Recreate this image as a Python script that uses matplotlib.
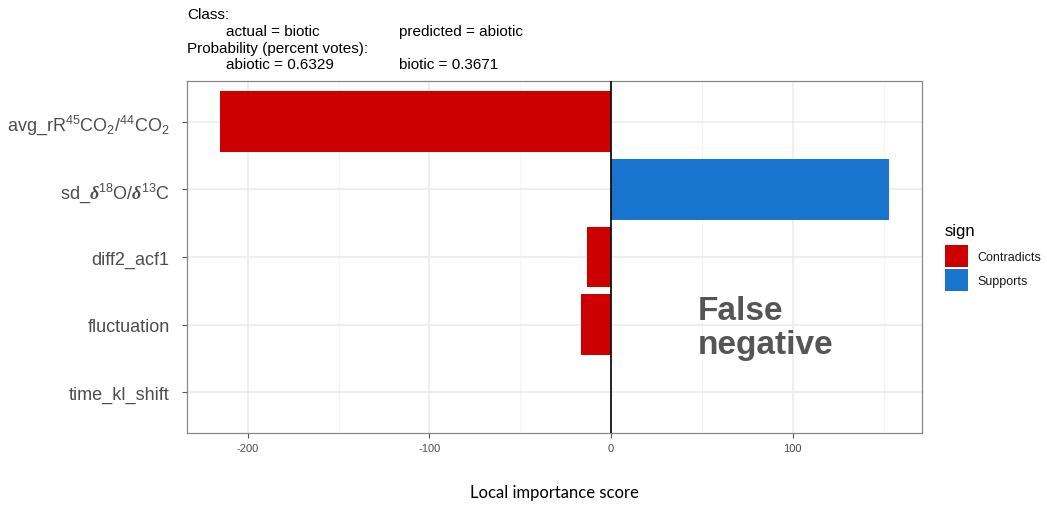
import numpy as np
import matplotlib.pyplot as plt
from matplotlib.patches import Patch

# local explanation for one misclassified sample
features = [
    r"avg_rR$^{45}$CO$_2$/$^{44}$CO$_2$",
    r"sd_$\boldsymbol{\delta}^{18}$O/$\boldsymbol{\delta}^{13}$C",
    "diff2_acf1",
    "fluctuation",
    "time_kl_shift",
]
scores = [-215.0, 152.7, -13.0, -16.5, 0.0]
sign_names = ["Contradicts", "Supports"]
sign_colors = {"Contradicts": "#CC0000", "Supports": "#1874CD"}

header_rows = [
    ("Class:", None, None),
    (None, "actual = biotic", "predicted = abiotic"),
    ("Probability (percent votes):", None, None),
    (None, "abiotic = 0.6329", "biotic = 0.3671"),
]

plt.rcParams.update({
    "font.family": "Liberation Sans",
    "mathtext.fontset": "custom",
    "mathtext.rm": "Liberation Sans",
    "mathtext.it": "Liberation Sans:italic",
    "mathtext.bf": "Liberation Sans:bold",
    "mathtext.bfit": "Liberation Serif:italic:bold",
})

fig = plt.figure(figsize=(10.47, 5.06), dpi=100)
ax = fig.add_axes([187 / 1047, 1 - 434 / 506, (922 - 187) / 1047, (434 - 82) / 506])

signs = ["Contradicts" if s < 0 else "Supports" for s in scores]
ypos = np.arange(len(features))
ax.barh(ypos, scores, height=0.9, color=[sign_colors[s] for s in signs], zorder=2)
ax.axvline(0, color="black", lw=1.2, zorder=3)

# ggplot style 5% padding around the data
lo, hi = min(min(scores), 0), max(max(scores), 0)
pad = 0.05 * (hi - lo)
ax.set_xlim(lo - pad, hi + pad)
ax.set_ylim(len(features) - 0.4, -0.6)

ax.set_yticks(ypos)
ax.set_yticklabels(features, fontsize=13, color="#4D4D4D")
ax.set_xticks([-200, -100, 0, 100])
ax.set_xticklabels(["-200", "-100", "0", "100"], fontsize=8, color="#4D4D4D")
ax.set_xticks([-150, -50, 50, 150], minor=True)
ax.tick_params(axis="both", which="major", length=3.5, color="#555555", width=0.8)
ax.tick_params(axis="x", which="minor", length=0)
ax.tick_params(axis="y", pad=9)
ax.tick_params(axis="x", pad=4)

ax.grid(True, which="major", color="#EBEBEB", lw=1.1, zorder=0)
ax.grid(True, which="minor", axis="x", color="#F2F2F2", lw=0.6, zorder=0)
ax.set_axisbelow(True)
for sp in ax.spines.values():
    sp.set_color("#888888")
    sp.set_linewidth(0.9)

ax.set_xlabel("Local importance score", fontsize=12, family="Lato", color="black", labelpad=22)

ax.text(0.695, 0.30, "False\nnegative", transform=ax.transAxes, fontsize=24,
        fontweight="bold", color="#555555", ha="left", va="center", linespacing=1.15)

# header block above the panel
row_y = [15, 32, 49, 65]
for (lead, left, right), y in zip(header_rows, row_y):
    yf = 1 - y / 506
    if lead:
        fig.text(187 / 1047, yf, lead, fontsize=11, va="center", color="black")
    if left:
        fig.text(226 / 1047, yf, left, fontsize=11, va="center", color="black")
    if right:
        fig.text(399 / 1047, yf, right, fontsize=11, va="center", color="black")

handles = [Patch(facecolor=sign_colors[n], edgecolor="none", label=n) for n in sign_names]
leg = fig.legend(handles=handles, title="sign", loc="upper left",
                 bbox_to_anchor=(945 / 1047, 1 - 224 / 506), frameon=False,
                 fontsize=9, title_fontsize=12, handlelength=1.84, handleheight=2.35,
                 handletextpad=0.72, labelspacing=0.15, borderaxespad=0, borderpad=0)
leg._legend_box.align = "left"
leg._legend_box.sep = 5  # a bit more room under the title
for t in leg.get_texts():
    t.set_color("#1A1A1A")

fig.savefig("out.png", dpi=100)
